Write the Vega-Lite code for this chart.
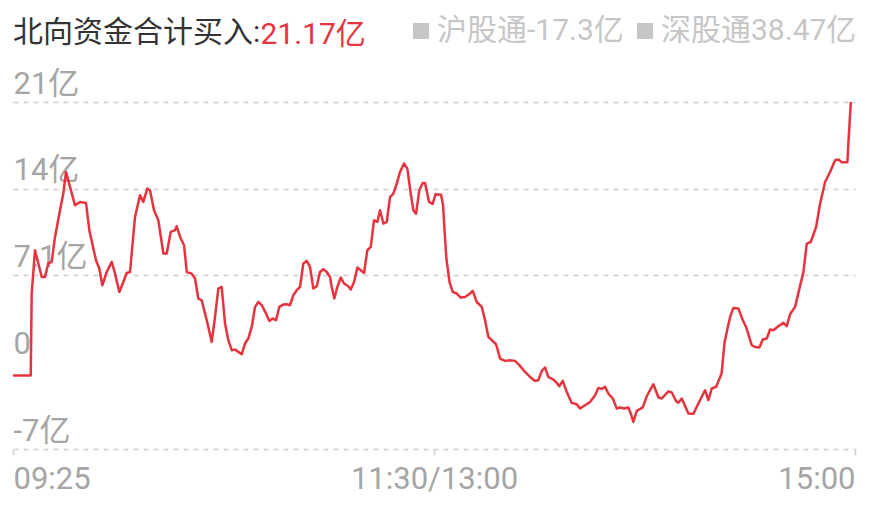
{
  "$schema": "https://vega.github.io/schema/vega-lite/v6.json",
  "autosize": {"type": "none"},
  "padding": {"left": 13, "top": 102, "right": 16, "bottom": 76},
  "width": 842,
  "height": 347,
  "title": {
    "text": "北向资金合计买入:",
    "anchor": "start",
    "frame": "group",
    "fontSize": 30,
    "fontWeight": "normal",
    "color": "#333333",
    "baseline": "alphabetic",
    "offset": 0,
    "dy": 56
  },
  "datasets": {
    "flow": [
      {"t": 0, "v": -1.08}, {"t": 5.05, "v": -1.08}, {"t": 5.33, "v": 5.61}, {"t": 6.27, "v": 9.11},
      {"t": 8.18, "v": 6.94}, {"t": 9.12, "v": 6.94}, {"t": 10.06, "v": 8.05}, {"t": 11.03, "v": 8.16},
      {"t": 11.97, "v": 10.19}, {"t": 13.4, "v": 12.36}, {"t": 14.34, "v": 13.72}, {"t": 15.11, "v": 15.48},
      {"t": 16.25, "v": 14.26}, {"t": 17.67, "v": 12.77}, {"t": 19.1, "v": 13.04}, {"t": 20.81, "v": 12.96},
      {"t": 21.75, "v": 10.74}, {"t": 23.66, "v": 8.3}, {"t": 24.6, "v": 7.62}, {"t": 25.46, "v": 6.26},
      {"t": 26.71, "v": 7.34}, {"t": 28.14, "v": 8.16}, {"t": 29.08, "v": 7.21}, {"t": 30.3, "v": 5.72},
      {"t": 31.44, "v": 6.53}, {"t": 32.41, "v": 7.26}, {"t": 33.35, "v": 7.34}, {"t": 34.78, "v": 11.82},
      {"t": 36.2, "v": 13.58}, {"t": 37.14, "v": 13.04}, {"t": 38.28, "v": 14.13}, {"t": 39.05, "v": 13.99},
      {"t": 40.19, "v": 12.36}, {"t": 41.42, "v": 11.55}, {"t": 42.85, "v": 8.84}, {"t": 43.81, "v": 8.84},
      {"t": 44.95, "v": 10.6}, {"t": 46.18, "v": 10.74}, {"t": 46.66, "v": 11.06}, {"t": 47.81, "v": 10.06},
      {"t": 48.75, "v": 9.52}, {"t": 49.52, "v": 7.34}, {"t": 50.94, "v": 7.21}, {"t": 51.88, "v": 6.81},
      {"t": 52.82, "v": 5.18}, {"t": 53.79, "v": 5.04}, {"t": 55.22, "v": 3.42}, {"t": 56.64, "v": 1.65},
      {"t": 57.58, "v": 3.68}, {"t": 58.52, "v": 5.99}, {"t": 59.49, "v": 6.12}, {"t": 60.43, "v": 3.15},
      {"t": 61.37, "v": 1.79}, {"t": 62.34, "v": 0.98}, {"t": 63.28, "v": 1.03}, {"t": 64.22, "v": 0.84},
      {"t": 65.19, "v": 0.65}, {"t": 66.13, "v": 1.52}, {"t": 67.08, "v": 1.93}, {"t": 68.04, "v": 2.87},
      {"t": 68.99, "v": 4.5}, {"t": 69.93, "v": 4.9}, {"t": 70.9, "v": 4.64}, {"t": 72.12, "v": 3.96},
      {"t": 73.06, "v": 3.36}, {"t": 74.03, "v": 3.55}, {"t": 74.97, "v": 3.42}, {"t": 75.91, "v": 4.5},
      {"t": 77.05, "v": 4.69}, {"t": 78.02, "v": 4.72}, {"t": 78.96, "v": 4.64}, {"t": 79.9, "v": 5.45},
      {"t": 80.87, "v": 5.86}, {"t": 81.81, "v": 6.12}, {"t": 82.75, "v": 8.03}, {"t": 83.72, "v": 8.24},
      {"t": 84.66, "v": 7.75}, {"t": 85.6, "v": 5.99}, {"t": 86.57, "v": 6.18}, {"t": 87.51, "v": 7.34},
      {"t": 88.45, "v": 7.56}, {"t": 89.42, "v": 7.34}, {"t": 90.36, "v": 6.94}, {"t": 90.85, "v": 6.12},
      {"t": 91.59, "v": 5.18}, {"t": 92.45, "v": 6.12}, {"t": 93.42, "v": 6.89}, {"t": 94.36, "v": 6.4},
      {"t": 95.58, "v": 6.18}, {"t": 96.27, "v": 5.91}, {"t": 97.21, "v": 6.53}, {"t": 98.15, "v": 7.7},
      {"t": 99.12, "v": 7.48}, {"t": 100.06, "v": 7.26}, {"t": 101.0, "v": 9.11}, {"t": 101.97, "v": 9.38},
      {"t": 102.91, "v": 11.55}, {"t": 103.85, "v": 11.41}, {"t": 104.62, "v": 12.36}, {"t": 105.56, "v": 11.28},
      {"t": 106.53, "v": 11.41}, {"t": 107.47, "v": 13.44}, {"t": 108.41, "v": 13.72}, {"t": 109.38, "v": 14.53},
      {"t": 110.32, "v": 15.48}, {"t": 111.46, "v": 16.16}, {"t": 112.4, "v": 15.75}, {"t": 113.37, "v": 13.72},
      {"t": 114.11, "v": 12.36}, {"t": 114.88, "v": 12.09}, {"t": 115.82, "v": 13.99}, {"t": 116.79, "v": 14.58},
      {"t": 117.45, "v": 14.58}, {"t": 118.59, "v": 13.04}, {"t": 119.58, "v": 12.87}, {"t": 120.44, "v": 13.66},
      {"t": 122.01, "v": 13.62}, {"t": 122.58, "v": 12.77}, {"t": 123.0, "v": 10.74}, {"t": 123.52, "v": 8.46},
      {"t": 124.43, "v": 6.51}, {"t": 125.34, "v": 5.72}, {"t": 126.48, "v": 5.59}, {"t": 127.62, "v": 5.26},
      {"t": 128.85, "v": 5.31}, {"t": 130.27, "v": 5.59}, {"t": 131.04, "v": 5.8}, {"t": 132.18, "v": 4.9},
      {"t": 133.61, "v": 4.5}, {"t": 134.55, "v": 3.42}, {"t": 135.49, "v": 2.06}, {"t": 136.46, "v": 1.79},
      {"t": 137.69, "v": 1.46}, {"t": 138.83, "v": 0.3}, {"t": 140.25, "v": 0.11}, {"t": 141.68, "v": 0.16},
      {"t": 143.1, "v": 0.11}, {"t": 144.33, "v": -0.24}, {"t": 145.95, "v": -0.79}, {"t": 147.38, "v": -1.2},
      {"t": 148.8, "v": -1.52}, {"t": 149.74, "v": -1.46}, {"t": 150.71, "v": -0.71}, {"t": 151.65, "v": -0.43},
      {"t": 152.59, "v": -1.2}, {"t": 154.02, "v": -1.41}, {"t": 154.99, "v": -1.68}, {"t": 155.73, "v": -1.95},
      {"t": 156.7, "v": -1.52}, {"t": 157.84, "v": -2.42}, {"t": 159.26, "v": -3.31}, {"t": 160.69, "v": -3.42},
      {"t": 161.63, "v": -3.77}, {"t": 163.06, "v": -3.5}, {"t": 164.48, "v": -3.23}, {"t": 165.91, "v": -2.68},
      {"t": 166.85, "v": -2.09}, {"t": 167.82, "v": -2.17}, {"t": 168.76, "v": -2.01}, {"t": 169.7, "v": -2.55},
      {"t": 170.95, "v": -2.95}, {"t": 172.09, "v": -3.77}, {"t": 173.03, "v": -3.68}, {"t": 174.17, "v": -3.77},
      {"t": 175.4, "v": -3.68}, {"t": 176.08, "v": -4.17}, {"t": 176.83, "v": -4.86}, {"t": 177.79, "v": -3.96},
      {"t": 179.5, "v": -3.68}, {"t": 180.64, "v": -2.77}, {"t": 182.53, "v": -1.79}, {"t": 183.95, "v": -2.85},
      {"t": 184.92, "v": -2.95}, {"t": 186.8, "v": -2.37}, {"t": 187.77, "v": -2.46}, {"t": 189.0, "v": -3.17},
      {"t": 189.65, "v": -3.29}, {"t": 190.62, "v": -2.95}, {"t": 192.5, "v": -4.17}, {"t": 193.93, "v": -4.2},
      {"t": 195.35, "v": -3.36}, {"t": 197.26, "v": -2.28}, {"t": 198.2, "v": -3.09}, {"t": 199.17, "v": -2.14},
      {"t": 200.4, "v": -2.01}, {"t": 201.97, "v": -0.92}, {"t": 202.82, "v": 1.63}, {"t": 204.39, "v": 3.68},
      {"t": 205.33, "v": 4.42}, {"t": 206.76, "v": 4.37}, {"t": 208.01, "v": 3.42}, {"t": 208.95, "v": 2.87},
      {"t": 210.58, "v": 1.38}, {"t": 211.52, "v": 1.24}, {"t": 212.74, "v": 1.2}, {"t": 213.71, "v": 1.85},
      {"t": 214.85, "v": 1.93}, {"t": 215.79, "v": 2.66}, {"t": 216.73, "v": 2.6}, {"t": 218.16, "v": 2.93},
      {"t": 219.58, "v": 3.2}, {"t": 220.55, "v": 2.93}, {"t": 221.49, "v": 3.9}, {"t": 222.92, "v": 4.5},
      {"t": 224.15, "v": 5.99}, {"t": 225.29, "v": 7.34}, {"t": 226.25, "v": 9.65}, {"t": 227.39, "v": 9.78},
      {"t": 228.91, "v": 11.0}, {"t": 230.05, "v": 12.91}, {"t": 231.47, "v": 14.66}, {"t": 232.9, "v": 15.48},
      {"t": 234.32, "v": 16.43}, {"t": 235.26, "v": 16.49}, {"t": 236.23, "v": 16.27}, {"t": 237.83, "v": 16.27},
      {"t": 238.11, "v": 17.79}, {"t": 238.8, "v": 21.17}
    ],
    "zero": [{"v": 0}],
    "channels": [{"name": "沪股通-17.3亿"}, {"name": "深股通38.47亿"}]
  },
  "encoding": {
    "x": {
      "field": "t",
      "type": "quantitative",
      "scale": {"domain": [0, 240], "nice": false, "zero": false},
      "axis": {
        "title": "",
        "values": [0, 120, 240],
        "labelExpr": "datum.value == 0 ? '09:25' : datum.value == 120 ? '11:30/13:00' : '15:00'",
        "labelAlign": {"expr": "datum.value == 0 ? 'left' : datum.value == 240 ? 'right' : 'center'"},
        "labelBaseline": "top",
        "labelFontSize": 31,
        "labelColor": "#a5a5a5",
        "labelPadding": 9,
        "labelBound": false,
        "labelOverlap": false,
        "labelFlush": false,
        "domain": false,
        "grid": false,
        "ticks": true,
        "tickSize": 6,
        "tickWidth": 1.5,
        "tickColor": "#d0d0d0"
      }
    },
    "y": {
      "field": "v",
      "type": "quantitative",
      "scale": {"domain": [-7.06, 21.17], "nice": false, "zero": false},
      "axis": {
        "title": "21.17亿",
        "titleColor": "#e6333d",
        "titleFontSize": 30,
        "titleFontWeight": "normal",
        "titleAngle": 0,
        "titleAlign": "left",
        "titleBaseline": "alphabetic",
        "titleX": 247,
        "titleY": -59,
        "values": [-7.06, 0, 7.06, 14.11, 21.17],
        "labelExpr": "datum.value > 20 ? '21亿' : datum.value > 13 ? '14亿' : datum.value > 7 ? '7.1亿' : datum.value < -7 ? '-7亿' : '0'",
        "labelAlign": "left",
        "labelBaseline": "alphabetic",
        "labelOffset": -9,
        "labelPadding": 0,
        "labelFontSize": 31,
        "labelColor": "#a5a5a5",
        "labelBound": false,
        "labelOverlap": false,
        "labelFlush": false,
        "domain": false,
        "ticks": false,
        "grid": true,
        "gridColor": "#d0d0d0",
        "gridDash": [5, 5],
        "gridWidth": 1.5,
        "gridOpacity": {"expr": "datum.value == 0 ? 0 : 1"}
      }
    }
  },
  "layer": [
    {
      "data": {"name": "zero"},
      "mark": {"type": "rule", "color": "#f2a491", "strokeWidth": 1.5},
      "encoding": {"y": {"field": "v", "type": "quantitative"}}
    },
    {
      "data": {"name": "flow"},
      "mark": {"type": "line", "color": "#e6333d", "strokeWidth": 2.5, "strokeJoin": "round"}
    },
    {
      "data": {"name": "channels"},
      "mark": {"type": "square", "opacity": 0},
      "encoding": {
        "x": {"value": 0},
        "y": {"value": 0},
        "color": {
          "field": "name",
          "type": "nominal",
          "scale": {"domain": ["沪股通-17.3亿", "深股通38.47亿"], "range": ["#c6c6c6", "#c6c6c6"]},
          "legend": {
            "title": null,
            "orient": "none",
            "legendX": 393,
            "legendY": -86,
            "direction": "horizontal",
            "padding": 0,
            "symbolType": "square",
            "symbolSize": 256,
            "symbolOpacity": 1,
            "symbolStrokeWidth": 0,
            "labelFontSize": 30,
            "labelColor": "#c6c6c6",
            "labelOffset": 1,
            "columnPadding": 6,
            "labelLimit": 400
          }
        }
      }
    }
  ],
  "config": {
    "font": "Roboto, 'Noto Sans CJK SC', sans-serif",
    "view": {"stroke": null}
  }
}
